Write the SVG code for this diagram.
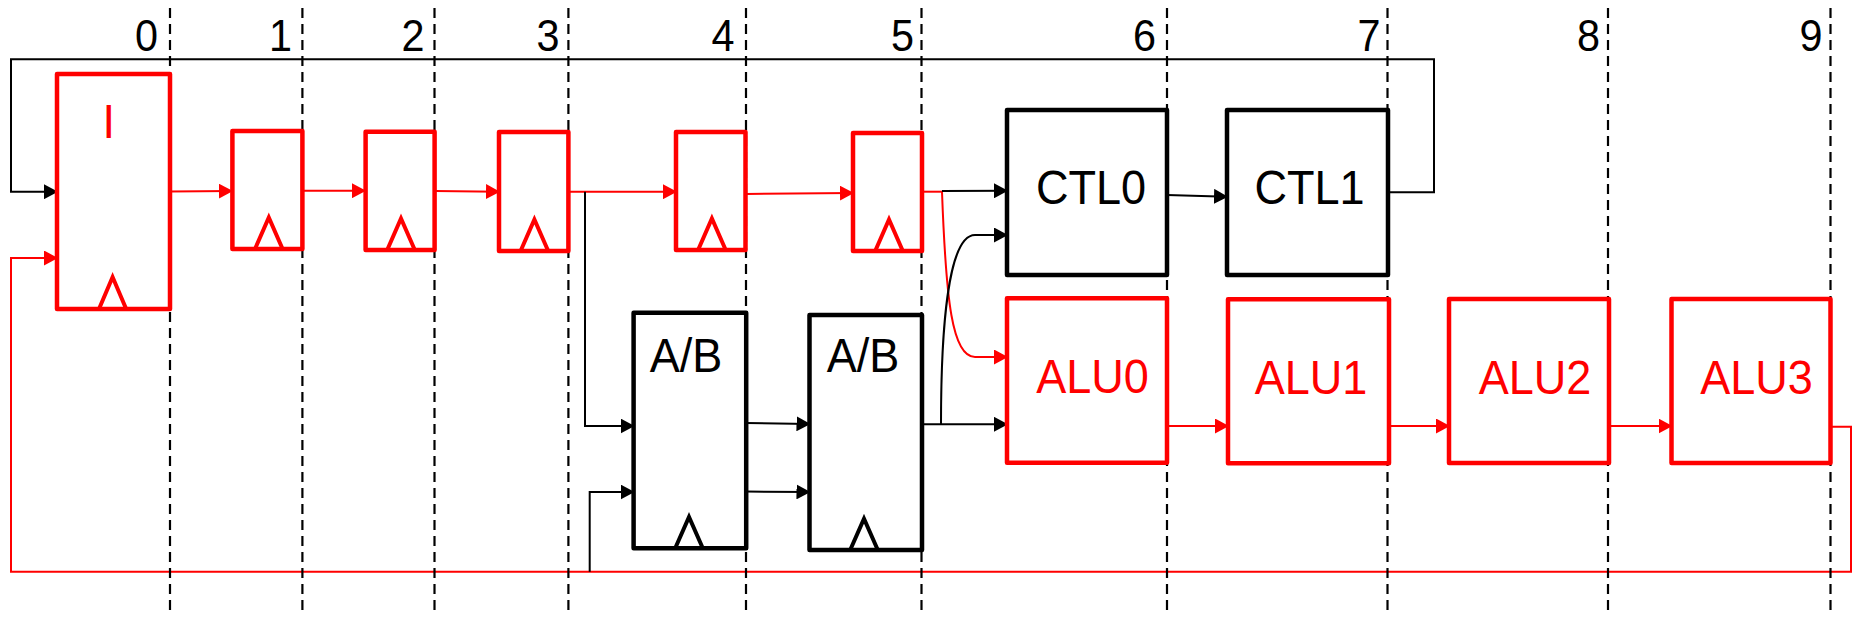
<svg xmlns="http://www.w3.org/2000/svg" width="1856" height="620" viewBox="0 0 1856 620">
<style>
  .dash { stroke:#000; stroke-width:2.2; stroke-dasharray:10 6; fill:none; }
  .num { font-family:"Liberation Sans", Arial, sans-serif; font-size:45px; fill:#000; text-anchor:end; }
  .lbl { font-family:"Liberation Sans", Arial, sans-serif; font-size:49px; text-anchor:middle; }
  .lblr { fill:#ff0000; }
  .lblk { fill:#000; }
  .boxr { fill:#fff; stroke:#ff0000; stroke-width:4.5; stroke-linejoin:round; }
  .boxk { fill:#fff; stroke:#000; stroke-width:4.5; stroke-linejoin:round; }
  .clkr { fill:none; stroke:#ff0000; stroke-width:4; stroke-linejoin:miter; }
  .clkk { fill:none; stroke:#000; stroke-width:4; stroke-linejoin:miter; }
  .wr { fill:none; stroke:#ff0000; stroke-width:2; }
  .wk { fill:none; stroke:#000; stroke-width:2; }
  .ar { marker-end:url(#arrR); }
  .ak { marker-end:url(#arrK); }
</style>
<defs>
  <marker id="arrR" viewBox="0 0 14 15" refX="13" refY="7.5" markerWidth="14" markerHeight="15" markerUnits="userSpaceOnUse" orient="auto">
    <path d="M0,0 L14,7.5 L0,15 z" fill="#ff0000"/>
  </marker>
  <marker id="arrK" viewBox="0 0 14 15" refX="13" refY="7.5" markerWidth="14" markerHeight="15" markerUnits="userSpaceOnUse" orient="auto">
    <path d="M0,0 L14,7.5 L0,15 z" fill="#000"/>
  </marker>
</defs>

<g id="connectors">
  <!-- red pipeline -->
  <path class="wr ar" d="M170 191.5 L232 191"/>
  <path class="wr ar" d="M302 190.7 L365 190.7"/>
  <path class="wr ar" d="M435 191 L499 191.7"/>
  <path class="wr ar" d="M568 191.7 L676 191.7"/>
  <path class="wr ar" d="M746 194 L853 193"/>
  <path class="wr" d="M922 191.7 L942 191.7"/>
  <path class="wr ar" d="M942 192 C946 300 952 357 975 357 L1007 357"/>
  <path class="wr ar" d="M1167 426 L1228 426"/>
  <path class="wr ar" d="M1389 426 L1449 426"/>
  <path class="wr ar" d="M1609 426 L1671.5 426"/>
  <path class="wr ar" d="M1830.5 426.7 H1851 V571.7 H11 V258 H57"/>
  <!-- black -->
  <path class="wk ak" d="M942 191 L1007 190.7"/>
  <path class="wk ak" d="M941 424 C941 330 948 235 975 235 L1007 235"/>
  <path class="wk ak" d="M922 424.3 L1007 424.3"/>
  <path class="wk ak" d="M746 423 L809.5 424"/>
  <path class="wk ak" d="M746 491.5 L809.5 492"/>
  <path class="wk ak" d="M585 191.7 V426 H633.6"/>
  <path class="wk ak" d="M589.7 571.7 V492 H633.6"/>
  <path class="wk ak" d="M1167 195 L1227 196.7"/>
  <path class="wk ak" d="M1388 192.3 H1434 V59.3 H11 V191.7 H57"/>
</g>

<g id="stages">
  <line class="dash" x1="170" y1="8" x2="170" y2="616"/>
  <line class="dash" x1="302.4" y1="8" x2="302.4" y2="616"/>
  <line class="dash" x1="434.5" y1="8" x2="434.5" y2="616"/>
  <line class="dash" x1="568.4" y1="8" x2="568.4" y2="616"/>
  <line class="dash" x1="746" y1="8" x2="746" y2="616"/>
  <line class="dash" x1="921.5" y1="8" x2="921.5" y2="616"/>
  <line class="dash" x1="1167" y1="8" x2="1167" y2="616"/>
  <line class="dash" x1="1387.5" y1="8" x2="1387.5" y2="616"/>
  <line class="dash" x1="1608" y1="8" x2="1608" y2="616"/>
  <line class="dash" x1="1830.5" y1="8" x2="1830.5" y2="616"/>
  <text class="num" transform="translate(158 51) scale(0.92 1)">0</text>
  <text class="num" transform="translate(292 51) scale(0.92 1)">1</text>
  <text class="num" transform="translate(424.5 51) scale(0.92 1)">2</text>
  <text class="num" transform="translate(559.5 51) scale(0.92 1)">3</text>
  <text class="num" transform="translate(734.5 51) scale(0.92 1)">4</text>
  <text class="num" transform="translate(914 51) scale(0.92 1)">5</text>
  <text class="num" transform="translate(1156 51) scale(0.92 1)">6</text>
  <text class="num" transform="translate(1380.5 51) scale(0.92 1)">7</text>
  <text class="num" transform="translate(1600 51) scale(0.92 1)">8</text>
  <text class="num" transform="translate(1822.5 51) scale(0.92 1)">9</text>
</g>

<g id="node-I">
  <rect class="boxr" x="57" y="74" width="113" height="235"/>
  <text class="lbl lblr" transform="translate(108.7 137.5) scale(0.92 1)">I</text>
  <path class="clkr" d="M99 309 L112.6 277 L126.2 309"/>
</g>
<g id="node-R1">
  <rect class="boxr" x="232.4" y="131" width="70" height="118"/>
  <path class="clkr" d="M255 249 L268.8 217.5 L282.6 249"/>
</g>
<g id="node-R2">
  <rect class="boxr" x="365.6" y="131.7" width="69" height="118.3"/>
  <path class="clkr" d="M387.2 250 L401 218.5 L414.8 250"/>
</g>
<g id="node-R3">
  <rect class="boxr" x="499" y="132" width="69.4" height="119"/>
  <path class="clkr" d="M520.6 251 L534.4 219.5 L548.2 251"/>
</g>
<g id="node-R4">
  <rect class="boxr" x="676" y="132" width="69.5" height="118"/>
  <path class="clkr" d="M698.1 250 L711.9 218.5 L725.7 250"/>
</g>
<g id="node-R5">
  <rect class="boxr" x="853" y="133" width="69" height="118"/>
  <path class="clkr" d="M875.2 251 L889 219.5 L902.8 251"/>
</g>
<g id="node-AB1">
  <rect class="boxk" x="633.6" y="312.7" width="112.6" height="235.6"/>
  <text class="lbl lblk" transform="translate(686 371.5) scale(0.92 1)">A/B</text>
  <path class="clkk" d="M675.2 548.3 L689 517 L702.8 548.3"/>
</g>
<g id="node-AB2">
  <rect class="boxk" x="809.5" y="315" width="112.5" height="235"/>
  <text class="lbl lblk" transform="translate(863 371.5) scale(0.92 1)">A/B</text>
  <path class="clkk" d="M850.2 550 L864 518.7 L877.8 550"/>
</g>
<g id="node-CTL0">
  <rect class="boxk" x="1007" y="110" width="160" height="165"/>
  <text class="lbl lblk" transform="translate(1091 203.5) scale(0.92 1)">CTL0</text>
</g>
<g id="node-CTL1">
  <rect class="boxk" x="1227" y="110" width="161" height="165"/>
  <text class="lbl lblk" transform="translate(1309.5 204) scale(0.92 1)">CTL1</text>
</g>
<g id="node-ALU0">
  <rect class="boxr" x="1007" y="298.3" width="160" height="164.4"/>
  <text class="lbl lblr" transform="translate(1092.5 393) scale(0.92 1)">ALU0</text>
</g>
<g id="node-ALU1">
  <rect class="boxr" x="1228" y="299.3" width="161" height="164"/>
  <text class="lbl lblr" transform="translate(1311 393.5) scale(0.92 1)">ALU1</text>
</g>
<g id="node-ALU2">
  <rect class="boxr" x="1449" y="299" width="160" height="164"/>
  <text class="lbl lblr" transform="translate(1535 393.5) scale(0.92 1)">ALU2</text>
</g>
<g id="node-ALU3">
  <rect class="boxr" x="1671.5" y="299" width="159" height="164"/>
  <text class="lbl lblr" transform="translate(1756.5 393.5) scale(0.92 1)">ALU3</text>
</g>
</svg>
